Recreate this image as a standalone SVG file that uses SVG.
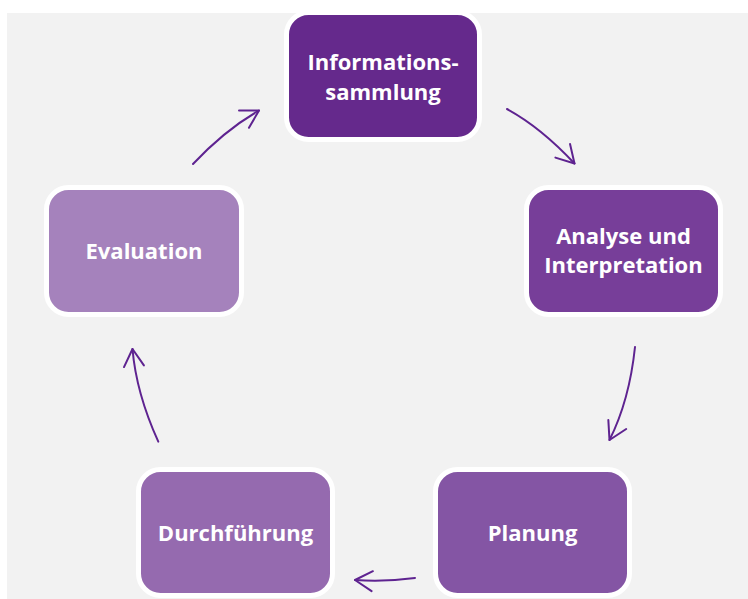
<svg xmlns="http://www.w3.org/2000/svg" width="748" height="599" viewBox="0 0 748 599">
  <style>
    .box { stroke: #ffffff; stroke-width: 5; }
    .label { font-family: "Open Sans", "Liberation Sans", sans-serif; font-weight: bold; font-size: 22px; fill: #ffffff; text-anchor: middle; }
    .conn { fill: none; stroke: #5e2390; stroke-width: 2; stroke-linecap: round; }
  </style>
  <defs>
    <marker id="chevron" markerUnits="userSpaceOnUse" viewBox="-20 -12 22 24" markerWidth="22" markerHeight="24" refX="0" refY="0" orient="auto" overflow="visible">
      <path d="M-17.3,-10 L0,0 L-17.3,10" fill="none" stroke="#5e2390" stroke-width="2" stroke-linecap="round" stroke-linejoin="round"/>
    </marker>
  </defs>

  <rect x="0" y="0" width="748" height="599" fill="#ffffff"/>
  <rect x="7" y="13" width="741" height="586" fill="#f2f2f2"/>

  <g id="connectors">
    <path class="conn" d="M193,164 Q225,130 259,110.5" marker-end="url(#chevron)"/>
    <path class="conn" d="M507,109 Q541,127.5 574.5,163.5" marker-end="url(#chevron)"/>
    <path class="conn" d="M635,347 Q629.4,400.4 609.5,440" marker-end="url(#chevron)"/>
    <path class="conn" d="M415,578 Q385,582 355,580" marker-end="url(#chevron)"/>
    <path class="conn" d="M158.3,441.7 Q136.2,393 132.5,349" marker-end="url(#chevron)"/>
  </g>

  <g id="node-informationssammlung">
    <rect class="box" x="286.5" y="12.5" width="193" height="127" rx="22" fill="#65298c"/>
    <text class="label" x="383" y="70">Informations-</text>
    <text class="label" x="383" y="100">sammlung</text>
  </g>

  <g id="node-analyse">
    <rect class="box" x="526.5" y="187.5" width="194" height="127" rx="22" fill="#773e99"/>
    <text class="label" x="623.5" y="244">Analyse und</text>
    <text class="label" x="623.5" y="273">Interpretation</text>
  </g>

  <g id="node-planung">
    <rect class="box" x="435.5" y="469.5" width="194" height="126" rx="22" fill="#8455a4"/>
    <text class="label" x="532.5" y="541">Planung</text>
  </g>

  <g id="node-durchfuehrung">
    <rect class="box" x="138.5" y="469.5" width="194" height="126" rx="22" fill="#956aaf"/>
    <text class="label" x="235.5" y="541">Durchführung</text>
  </g>

  <g id="node-evaluation">
    <rect class="box" x="46.5" y="187.5" width="195" height="127" rx="22" fill="#a582bc"/>
    <text class="label" x="144" y="259">Evaluation</text>
  </g>
</svg>
